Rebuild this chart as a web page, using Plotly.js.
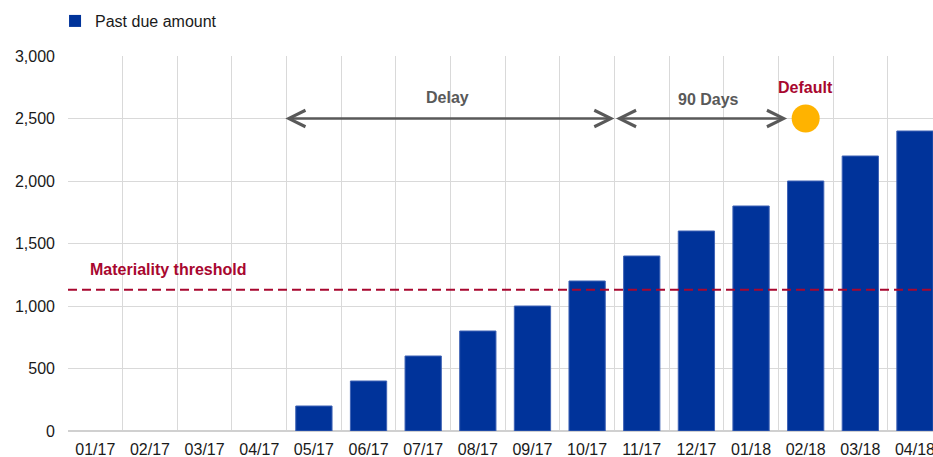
<!DOCTYPE html>
<html>
<head>
<meta charset="utf-8">
<script src="https://cdn.plot.ly/plotly-3.0.1.min.js"></script>
<style>html,body{margin:0;padding:0;background:#fff;}#chart{width:933px;height:457px;}</style>
</head>
<body>
<div id="chart"></div>
<script>
const months = ["01/17","02/17","03/17","04/17","05/17","06/17","07/17","08/17","09/17","10/17","11/17","12/17","01/18","02/18","03/18","04/18"];
const pastDue = [0,0,0,0,200,400,600,800,1000,1200,1400,1600,1800,2000,2200,2400];
const materialityThreshold = 1130;
const defaultMonth = ["02/18"];
const defaultValue = [2500];
const delayStart = 3.45, delayEnd = 9.5, daysEnd = 12.66, arrowLevel = 2500;

const FONT = "Liberation Sans, Arial, sans-serif";
const RED = "#A8072F";
const GREY = "#595959";

const traces = [
  {
    type: "bar", x: months, y: pastDue, name: "Past due amount",
    marker: {color: "#00339A", line: {color: "#3F63B5", width: pastDue.map(v => v > 0 ? 1 : 0)}},
    hoverinfo: "x+y"
  },
  {
    type: "scatter", mode: "markers", x: defaultMonth, y: defaultValue,
    marker: {color: "#FFB300", size: 28}, showlegend: false, cliponaxis: false
  }
];

const arrowCommon = {xref: "x", yref: "y", axref: "x", ayref: "y", showarrow: true, text: "",
  arrowcolor: GREY, arrowwidth: 2.5, arrowhead: 5, startarrowhead: 5, arrowsize: 1.3, startarrowsize: 1.3,
  arrowside: "end+start", standoff: 0, startstandoff: 0};

const layout = {
  width: 933, height: 457,
  margin: {l: 68, r: 0, t: 56, b: 26},
  paper_bgcolor: "#fff", plot_bgcolor: "#fff",
  font: {family: FONT, size: 16, color: "#1a1a1a"},
  bargap: 0.336,
  showlegend: true,
  legend: {orientation: "h", xref: "container", yref: "container", x: 0.059, xanchor: "left", y: 0.954, yanchor: "middle",
    font: {family: FONT, size: 16, color: "#1a1a1a"}, bgcolor: "rgba(0,0,0,0)"},
  xaxis: {type: "category", range: [-0.5, 15.33], tickson: "boundaries", showgrid: true,
    gridcolor: "#d9d9d9", gridwidth: 1, ticks: "", showline: false, zeroline: false,
    ticklabelstandoff: 7,
    tickfont: {family: FONT, size: 16, color: "#1a1a1a"}, automargin: false, fixedrange: true},
  yaxis: {range: [0, 3000], dtick: 500, tickformat: ",d", showgrid: true, gridcolor: "#d9d9d9",
    gridwidth: 1, zeroline: true, zerolinecolor: "#d0d0d0", zerolinewidth: 2, ticks: "",
    ticklabelstandoff: 12, tickfont: {family: FONT, size: 16, color: "#1a1a1a"}, automargin: false, fixedrange: true},
  shapes: [
    {type: "line", xref: "paper", x0: 0, x1: 1, yref: "y", y0: materialityThreshold, y1: materialityThreshold,
     line: {color: RED, width: 2, dash: "9px,5px"}}
  ],
  annotations: [
    Object.assign({}, arrowCommon, {x: delayEnd, y: arrowLevel, ax: delayStart, ay: arrowLevel}),
    Object.assign({}, arrowCommon, {x: daysEnd, y: arrowLevel, ax: delayEnd, ay: arrowLevel}),
    {xref: "x", yref: "y", x: 6.45, y: 2672, text: "<b>Delay</b>", showarrow: false,
     font: {family: FONT, size: 16, color: GREY}},
    {xref: "x", yref: "y", x: 11.23, y: 2650, text: "<b>90 Days</b>", showarrow: false,
     font: {family: FONT, size: 16, color: GREY}},
    {xref: "x", yref: "y", x: 13, y: 2752, text: "<b>Default</b>", showarrow: false,
     font: {family: FONT, size: 16, color: RED}},
    {xref: "x", yref: "y", x: -0.137, y: 1290, xanchor: "left", text: "<b>Materiality threshold</b>", showarrow: false,
     font: {family: FONT, size: 16, color: RED}}
  ]
};

Plotly.newPlot("chart", traces, layout, {displayModeBar: false, staticPlot: true});
</script>
</body>
</html>
